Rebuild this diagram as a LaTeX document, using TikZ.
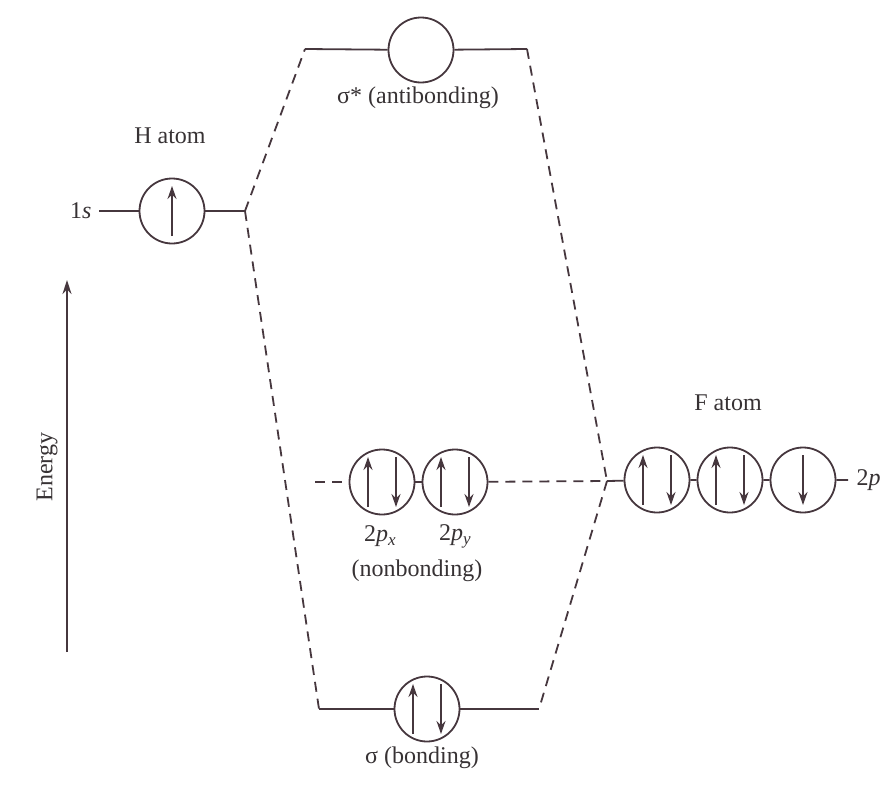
\documentclass[tikz,border=0pt]{standalone}
\usepackage{fontspec}
\setmainfont{Liberation Serif}
\usetikzlibrary{arrows.meta}
\definecolor{inkline}{RGB}{70,55,62}
\definecolor{inktext}{RGB}{55,50,52}
\tikzset{
  orb/.style={circle,draw=inkline,line width=1.8pt,minimum size=65pt,inner sep=0pt},
  lvl/.style={draw=inkline,line width=1.8pt},
  corr/.style={draw=inkline,line width=1.8pt,dash pattern=on 10pt off 7pt},
  spin/.style={draw=inkline,line width=1.6pt,-{Stealth[length=13pt,width=9pt]}},
  axis/.style={draw=inkline,line width=1.6pt,-{Stealth[length=14pt,width=9pt]}},
  lbl/.style={text=inktext,font=\fontsize{24}{27}\selectfont},
}
\newcommand\spinup[2]{\draw[spin] ([xshift=#2,yshift=-25pt]#1.center) -- ++(0pt,50pt);}
\newcommand\spindn[2]{\draw[spin] ([xshift=#2,yshift=25pt]#1.center) -- ++(0pt,-50pt);}
\newcommand\subx[1]{\raisebox{-0.35ex}{\fontsize{17}{19}\selectfont\textit{#1}}}
\begin{document}
\begin{tikzpicture}[x=1pt,y=-1pt]
\useasboundingbox (0,0) rectangle (891,787);
% H atom, 1s
\node[orb] (hs) at (172,211) {};
\coordinate (hsl) at (99,211);
\coordinate (hsr) at (245,211);
\draw[lvl] (hsl) -- (hs) -- (hsr);
\spinup{hs}{0pt}
\node[lbl,anchor=east] (hslab) at (95,211) {1\textit{s}};
\node[lbl] (hlab) at (170,136) {H atom};
% sigma* (antibonding)
\node[orb] (ss) at (421,50) {};
\coordinate (ssl) at (305,49);
\coordinate (ssr) at (527,49);
\draw[lvl] (ssl) -- (ss) -- (ssr);
\node[lbl] (sslab) at (418,98) {σ* (antibonding)};
% sigma (bonding)
\node[orb] (sb) at (427,709) {};
\coordinate (sbl) at (319,709);
\coordinate (sbr) at (539,709);
\draw[lvl] (sbl) -- (sb) -- (sbr);
\spinup{sb}{-14pt}
\spindn{sb}{14pt}
\node[lbl] (sblab) at (422,758) {σ (bonding)};
% nonbonding 2px, 2py
\node[orb] (npx) at (382,482) {};
\node[orb] (npy) at (455,482) {};
\coordinate (nbl) at (315,482);
\coordinate (nbr) at (607,481);
\draw[corr] (nbl) -- (npx);
\draw[lvl] (npx) -- (npy);
\draw[corr] (npy) -- (nbr);
\spinup{npx}{-14pt}
\spindn{npx}{14pt}
\spinup{npy}{-14pt}
\spindn{npy}{14pt}
\node[lbl] (pxlab) at (380,536) {2\textit{p}\subx{x}};
\node[lbl] (pylab) at (455,536) {2\textit{p}\subx{y}};
\node[lbl] (nblab) at (417,571) {(nonbonding)};
% F atom, 2p
\node[orb] (fpa) at (657,480) {};
\node[orb] (fpb) at (730,480) {};
\node[orb] (fpc) at (803,480) {};
\coordinate (fpr) at (848,480);
\draw[lvl] (nbr) -- (fpa) -- (fpb) -- (fpc) -- (fpr);
\spinup{fpa}{-14pt}
\spindn{fpa}{14pt}
\spinup{fpb}{-14pt}
\spindn{fpb}{14pt}
\spindn{fpc}{0pt}
\node[lbl,anchor=west] (fplab) at (853,480) {2\textit{p}};
\node[lbl] (flab) at (728,403) {F atom};
% correlation lines
\draw[corr] (hsr) -- (ssl);
\draw[corr] (hsr) -- (sbl);
\draw[corr] (ssr) -- (nbr);
\draw[corr] (nbr) -- (sbr);
% energy axis
\coordinate (ebot) at (67,652);
\coordinate (etop) at (67,280);
\draw[axis] (ebot) -- (etop);
\node[lbl,rotate=90] (elab) at (47,467) {Energy};
\end{tikzpicture}
\end{document}
